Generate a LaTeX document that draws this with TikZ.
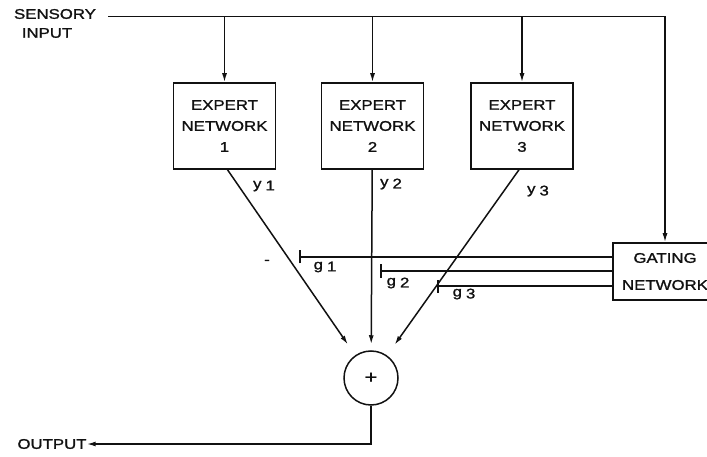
\documentclass[tikz,border=0pt]{standalone}
\usepackage{fontspec}
\usepackage{tikz}
\usetikzlibrary{positioning,arrows.meta}
\newfontfamily\lblfont[FakeStretch=1.2,FakeBold=1.3]{Liberation Sans}
\definecolor{cInk}{HTML}{111111}
\tikzset{
  blk/.style={draw=cInk, line width=1.5pt, align=center, inner sep=0pt,
              font=\lblfont\fontsize{14}{21}\selectfont, text=cInk},
  expert/.style={blk, minimum width=102pt, minimum height=86pt},
  gatebox/.style={blk, minimum width=104pt, minimum height=57pt,
              font=\lblfont\fontsize{14}{27}\selectfont},
  sumnode/.style={blk, circle, minimum size=54pt, font=\lblfont\fontsize{18}{18}\selectfont},
  ln/.style={draw=cInk, line width=1.5pt},
  ar/.style={ln, -{Latex[length=9pt,width=5pt]}},
  gl/.style={ln, {Bar[width=13pt]}-},
  lbl/.style={font=\lblfont\fontsize{14}{14}\selectfont, text=cInk, inner sep=0pt},
}
\newcommand{\lblsub}[2]{#1\hspace{4pt}\raisebox{-2pt}{#2}}

\begin{document}
\begin{tikzpicture}[x=1pt,y=-1pt]
  \useasboundingbox (0,0) rectangle (707,457);
  \clip (0,0) rectangle (707,457);

  % outer labels
  \node[lbl] (sens) at (55,14) {SENSORY};
  \node[lbl] (inp) at (47,33) {INPUT};
  \node[lbl] (outp) at (52,444) {OUTPUT};

  % experts, gate and sum
  \node[expert] (e1) at (224.5,126) {EXPERT\\NETWORK\\1};
  \node[expert, right=44.5pt of e1] (e2) {EXPERT\\NETWORK\\2};
  \node[expert, right=46pt of e2] (e3) {EXPERT\\NETWORK\\3};
  \node[gatebox] (gate) at (665,271.5) {GATING\\NETWORK};
  \node[sumnode] (sum) at (371,378) {+};

  % input bus
  \coordinate (top) at (sens.mid east -| gate);
  \draw[ar] ([xshift=12pt]sens.mid east) -- (top) -- (gate);
  \foreach \e in {e1,e2,e3}
    \draw[ar] (\e |- top) -- (\e);

  % expert outputs
  \draw[ar, shorten >=13pt] ([xshift=3pt]e1.south) -- (sum);
  \draw[ar, shorten >=6pt] (e2) -- (sum);
  \draw[ar, shorten >=13pt] ([xshift=-3pt]e3.south) -- (sum);
  \draw[ar] (sum) |- (outp);

  % gating outputs
  \coordinate (g1) at (299,257);
  \coordinate (g2) at (380,271);
  \coordinate (g3) at (437,286);
  \foreach \g in {g1,g2,g3}
    \draw[gl] (\g) -- (\g -| gate.west);

  \node[lbl] (y1) at (264,186) {\lblsub{y}{1}};
  \node[lbl] (y2) at (391,184) {\lblsub{y}{2}};
  \node[lbl] (y3) at (538,191) {\lblsub{y}{3}};
  \node[lbl] (gl1) at (325,267) {\lblsub{g}{1}};
  \node[lbl] (gl2) at (398,283) {\lblsub{g}{2}};
  \node[lbl] (gl3) at (464,294) {\lblsub{g}{3}};
  \node[lbl] (dash) at (267,262) {-};
\end{tikzpicture}
\end{document}
